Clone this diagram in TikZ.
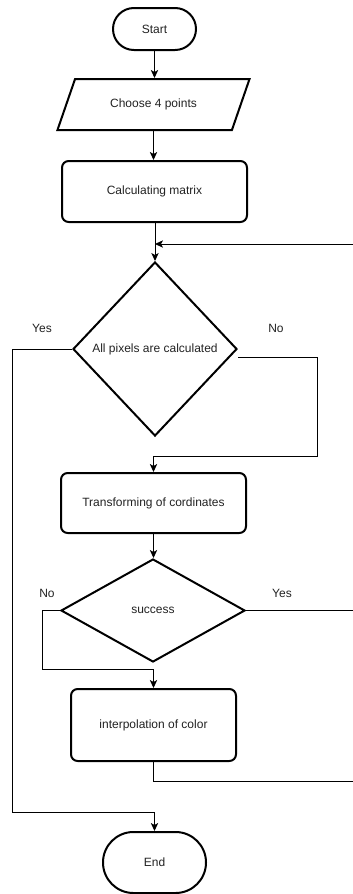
\documentclass[tikz,border=0pt]{standalone}
\usepackage{fontspec}
\setmainfont{Liberation Sans}
\usetikzlibrary{shapes.geometric,arrows.meta}
\definecolor{txt}{HTML}{222222}
\begin{document}
\begin{tikzpicture}[x=0.75pt,y=-0.75pt,
  font=\fontsize{9}{11}\selectfont, text=txt,
  shp/.style={draw=black, line width=1.5pt, inner sep=0pt, align=center},
  term/.style={shp, rectangle, rounded corners=#1},
  proc/.style={shp, rectangle, rounded corners=5pt},
  para/.style={shp, trapezium, trapezium left angle=49, trapezium right angle=131, trapezium stretches=true},
  dec/.style={shp, diamond},
  conn/.style={draw=black, line width=0.75pt},
  arr/.style={conn, -{Stealth[length=6pt,width=5.5pt,inset=1.5pt]}},
  lbl/.style={inner sep=0pt}
]
\useasboundingbox (0,0) rectangle (353,894);
\node[term=15.7pt, minimum width=62.25pt, minimum height=31.5pt] (start) at (154.5,29) {Start};
\node[para, minimum width=144.75pt, minimum height=38.25pt] (choose) at (153.5,104.5) {Choose 4 points};
\node[proc, minimum width=138.75pt, minimum height=45.75pt] (calc) at (154.5,191.5) {Calculating matrix};
\node[dec, minimum width=123pt, minimum height=130.5pt] (all) at (155,349) {All pixels are calculated};
\node[proc, minimum width=138.75pt, minimum height=45pt] (trans) at (153.5,503) {Transforming of cordinates};
\node[dec, minimum width=138pt, minimum height=77.25pt] (succ) at (153,610.5) {success};
\node[proc, minimum width=123.75pt, minimum height=54pt] (interp) at (153.5,725) {interpolation of color};
\node[term=22.8pt, minimum width=77.25pt, minimum height=45.75pt] (end) at (154.5,862.5) {End};

\node[lbl] (yes1) at (42,328) {Yes};
\node[lbl] (no1) at (276,328) {No};
\node[lbl] (no2) at (47,593) {No};
\node[lbl] (yes2) at (282,593) {Yes};

\coordinate (fb) at (353,244);
\coordinate (sy) at (353,610.5);
\coordinate (ie) at (353,781);

\draw[arr] (start.south) -- (start.south |- choose.north);
\draw[arr] (choose.south) -- (choose.south |- calc.north);
\draw[arr] (calc.south) -- (calc.south -| all.north) -- (all.north);
\draw[arr] (fb) -- (fb -| all.north);
\draw[arr] ([yshift=-6pt]all.east) -| (317,456) -| (trans.north);
\draw[arr] (all.west) -| (12,812) -| (end.north);
\draw[arr] (trans.south) -- (trans.south |- succ.north);
\draw[conn] (succ.east) -- (sy);
\draw[arr] (succ.west) -| (42,669) -| (interp.north);
\draw[conn] (interp.south) |- (ie);
\end{tikzpicture}
\end{document}
